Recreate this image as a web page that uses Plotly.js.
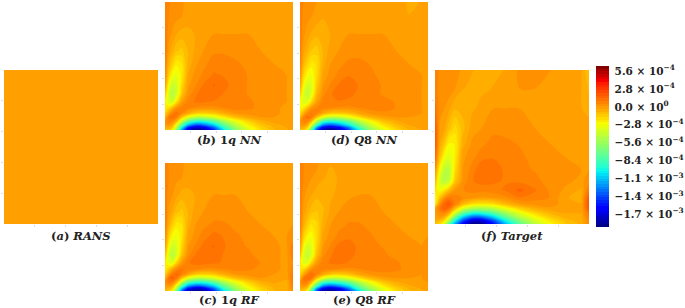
<!DOCTYPE html>
<html><head><meta charset="utf-8">
<script src="https://cdn.plot.ly/plotly-3.0.1.min.js"></script>
<style>html,body{margin:0;padding:0;background:#fff}#c{width:685px;height:308px}</style>
</head><body><div id="c"></div>
<script>
// Field values in units of 1e-4. Rows run bottom to top.
const xs=[0,.03,.06,.09,.13,.18,.24,.3,.38,.46,.55,.65,.75,.85,.95,1];
const ys=[0,.02,.04,.07,.1,.13,.17,.22,.28,.35,.43,.52,.62,.75,.88,1];
const rans=[[0,0],[0,0]];
const nn1q=[
[-1,-1.2,-2.5,-6,-12,-17,-18.5,-18,-15,-10.5,-6.5,-3.5,-1.8,-.8,-.4,-.2],
[-.5,-.6,-1.3,-4.5,-10,-15,-17,-16.5,-13.5,-9,-5.5,-3,-1.5,-.7,-.3,-.2],
[0,.2,-.5,-3,-7.5,-11.5,-13.5,-13,-11,-7.5,-4.5,-2.4,-1.1,-.5,-.2,-.2],
[.2,.8,.5,-.5,-4,-7.5,-9,-9,-7.5,-5,-3,-1.5,-.5,-.1,0,-.2],
[-.8,1,1.3,.8,-1,-3.2,-4.5,-4.5,-3.6,-2.2,-1,-.3,.1,.1,0,-.1],
[-1.5,-.3,.8,1.2,.6,-.4,-1.3,-1.5,-1.2,-.5,.1,.3,.3,.2,0,-.1],
[-2.2,-1.8,-.5,.4,.7,.6,.4,.3,.3,.5,.8,.6,.4,.2,0,0],
[-2.4,-3.5,-3.8,-2,-.1,.7,1,1,.9,.8,.8,.6,.4,.2,.1,0],
[-1.2,-3.8,-4.8,-3.8,-1.2,.3,.9,1.1,1.2,.9,.7,.5,.3,.2,.1,0],
[0,-2.8,-4.3,-3.8,-1.8,0,.5,1,1.4,1.1,.7,.5,.3,.2,.1,0],
[.5,-1.5,-2.8,-3.1,-2.2,-.3,.3,.6,1,.9,.7,.5,.3,.2,.1,.1],
[.9,-.7,-1.5,-2.3,-2,-.6,0,.4,.7,.7,.6,.4,.2,.1,.1,.1],
[1.1,-.1,-.6,-1.1,-1.3,-.7,-.2,.1,.45,.45,.35,.2,.1,.1,.1,.1],
[1,.3,0,-.3,-.5,-.4,-.3,-.1,.1,.1,.1,.1,.1,.1,.1,.1],
[.9,.5,.3,.2,.1,-.2,-.3,-.3,-.2,-.1,0,.1,.1,-.2,0,.1],
[.8,.6,.4,.3,.2,-.1,-.3,-.3,-.2,-.1,0,.1,.1,-.1,0,.1]];
const nnQ8=[
[-1,-1.2,-3,-8,-14,-18,-18.5,-17.5,-14.5,-10,-6,-3.3,-1.7,-.7,-.3,-.2],
[-.4,-.6,-1.5,-6,-12,-16,-17,-16,-13,-8.5,-5,-2.7,-1.3,-.5,-.2,-.1],
[0,.2,-.5,-3.5,-8.5,-12.5,-13.5,-12.5,-10,-6.8,-4,-2,-.9,-.3,0,-.1],
[.1,.8,.6,-.7,-4.5,-8,-9,-8.5,-7,-4.5,-2.6,-1.1,-.4,0,.1,0],
[-.8,.8,1.2,.9,-.9,-3.2,-4.5,-4.3,-3.2,-1.9,-.7,-.1,.1,.1,.1,.1],
[-1.8,-.5,.6,1,.6,-.3,-1.2,-1.3,-1,-.3,.2,.4,.4,.2,.1,.1],
[-2.5,-2,-.8,.2,.6,.6,.5,.4,.4,.5,.7,.7,.5,.3,.1,.1],
[-2.6,-3.5,-3.4,-1.7,-.1,.7,.9,.9,.8,.7,.7,.6,.5,.3,.1,.1],
[-1.4,-3.6,-4.5,-3.2,-.8,.4,.9,1.1,1.1,.8,.6,.5,.4,.2,.1,.1],
[-.3,-2.7,-4,-3.4,-1.4,.1,.6,1,1.2,.9,.6,.5,.3,.2,.1,.1],
[.3,-1.7,-2.7,-2.9,-1.8,-.2,.3,.6,.9,.8,.6,.4,.3,.2,.1,.1],
[.7,-.8,-1.6,-2.2,-1.9,-.5,.1,.4,.6,.6,.5,.35,.15,.1,.1,.1],
[.8,-.2,-.7,-1.2,-1.4,-.7,-.1,.1,.35,.4,.3,.15,.1,.1,.1,.1],
[.8,.2,-.1,-.4,-.6,-.5,-.3,-.1,.1,.1,.1,.1,.1,.1,.1,.1],
[.7,.4,.2,.1,-.1,-.3,-.3,-.3,-.2,0,.1,.1,0,-.3,-.3,0],
[.7,.5,.4,.2,.1,-.2,-.3,-.3,-.2,-.1,.1,.1,0,-.4,-.3,0]];
const rf1q=[
[-1,-1.4,-3,-7,-13,-17.5,-18.5,-18,-15,-10.5,-6.5,-3.6,-1.8,-.8,-.4,.5],
[-.5,-.7,-1.5,-5,-11,-15.5,-17,-16.5,-13.5,-9,-5.5,-3,-1.5,-.7,-.5,.5],
[0,.1,-.5,-3.2,-8,-12,-13.5,-13,-11,-7.5,-4.5,-2.4,-1.1,-.5,-.5,.8],
[.3,1,.7,-.5,-4,-7.8,-9,-9,-7.5,-5,-3,-1.5,-.5,-.2,-.5,1],
[-.6,1.3,1.6,1.1,-1,-3.2,-4.6,-4.5,-3.6,-2.2,-1,-.3,.1,.1,-.2,1],
[-1.5,0,1.1,1.5,.8,-.2,-1.2,-1.5,-1.2,-.5,.1,.3,.3,.1,-.1,1],
[-2.2,-1.5,-.2,.6,1,.8,.6,.4,.4,.5,.7,.6,.4,.2,0,.7],
[-2,-3.2,-3.2,-1.6,.1,.9,1.1,1.1,1,.9,.8,.7,.5,.2,0,.5],
[-1,-3.6,-4.8,-3.6,-1.1,.4,1,1.2,1.2,.9,.7,.6,.4,.2,0,.8],
[.1,-2.6,-4.1,-3.6,-1.7,.1,.6,1.1,1.4,1,.6,.5,.3,.2,0,.8],
[.6,-1.5,-2.7,-3,-2.1,-.2,.3,.7,1.1,.9,.6,.4,.2,.1,.1,.3],
[1,-.6,-1.4,-2.2,-2,-.5,.1,.4,.6,.6,.4,.2,.1,.1,.1,.1],
[1,0,-.4,-1,-1.3,-.7,-.1,.1,.3,.25,.2,.1,.1,.1,.1,.1],
[.9,.3,.1,-.2,-.5,-.4,-.3,-.1,.1,.1,.1,.1,.1,.1,.1,.1],
[.8,.5,.3,.2,.1,-.2,-.3,-.3,-.2,0,.1,.1,.1,-.3,-.3,.1],
[.7,.5,.4,.3,.2,-.1,-.3,-.3,-.2,-.1,.1,.1,.1,-.2,-.3,.1]];
const rfQ8=[
[-1,-1.2,-3,-8,-14,-18,-18.5,-17.5,-14.5,-10.5,-6.5,-3.6,-1.9,-.8,-.4,-.1],
[-.5,-.6,-1.5,-6,-12,-16,-17,-16,-13,-8.5,-5.5,-3,-1.5,-.7,-.3,-.1],
[0,.2,-.4,-3.5,-8.5,-12.5,-13.5,-12.5,-10.5,-7,-4.3,-2.2,-1,-.4,-.1,0],
[.3,.9,.7,-.6,-4.5,-8,-9,-8.5,-7,-4.7,-2.8,-1.2,-.4,-.1,0,.1],
[-.7,1.1,1.4,1,-.9,-3.2,-4.5,-4.3,-3.3,-2,-.8,-.1,.1,.1,.1,.2],
[-1.6,-.2,.9,1.3,.7,-.3,-1.2,-1.4,-1.1,-.3,.2,.4,.4,.2,.1,.3],
[-2.2,-1.7,-.6,.4,.8,.7,.6,.5,.4,.5,.7,.7,.6,.4,.1,.3],
[-2.1,-3.3,-3.3,-1.6,0,.8,1,1.1,.9,.8,.7,.7,.6,.3,.1,.3],
[-1,-3.5,-4.5,-3.4,-1,.4,.9,1.3,1.1,.8,.7,.6,.4,.2,.1,.3],
[0,-2.6,-3.9,-3.3,-1.5,.1,.6,1.1,1.2,.8,.6,.5,.3,.2,.1,.2],
[.5,-1.5,-2.5,-2.7,-1.8,-.2,.3,.6,.8,.7,.55,.4,.2,.1,.1,.1],
[.9,-.6,-1.4,-2,-1.7,-.5,.1,.4,.55,.55,.45,.25,.1,.1,.1,.1],
[.9,-.1,-.6,-1,-1.2,-.8,-.2,.1,.35,.35,.25,.1,.1,.1,.1,.1],
[.9,.2,-.1,-.3,-.6,-.6,-.4,-.2,0,.1,.1,.1,.1,.1,.1,.1],
[.8,.5,.3,.1,0,-.3,-.4,-.3,-.2,0,.1,.1,.1,0,0,.1],
[.7,.5,.4,.3,.2,-.1,-.3,-.3,-.2,-.1,.1,.1,.1,-.1,0,.1]];
const target=[
[-1,-1.7,-3.5,-8,-12,-16,-18.5,-18.5,-15.5,-11.5,-7.5,-4.5,-2.6,-1.2,-.6,.5],
[-.5,-1.1,-1.8,-5,-10,-14,-17,-17,-14,-10,-6.5,-3.8,-2.1,-1,-.5,.5],
[0,0,-.7,-2.8,-7.5,-11.5,-14,-14,-11.5,-8,-5,-2.9,-1.5,-.6,-.4,.8],
[0,.4,.6,-.4,-3.8,-7.5,-9.5,-9.5,-8,-5.5,-3.3,-1.7,-.7,-.3,-.3,1.2],
[-.2,1,1.7,1.2,-.9,-3.5,-5,-5.2,-4.5,-3,-1.5,-.5,0,0,-.3,2],
[-2.5,.3,1.5,2,.8,-.7,-1.8,-2.1,-1.8,-.8,0,.3,.3,-.1,-.3,2.2],
[-3,-1.2,.3,1,.8,.5,.2,0,.1,.4,.9,.7,.5,-.3,-.4,2],
[-2,-2.8,-2.2,-1,.1,.5,.7,.7,.8,1,1.5,1,.4,0,-.4,1],
[-.6,-3.7,-4.8,-4.2,-1.2,.2,.9,1.1,1,.9,.8,.6,.4,.2,0,.3],
[.4,-2.7,-4.5,-4.8,-1.8,.1,.7,1.3,1.3,.8,.6,.5,.3,.2,.1,.1],
[1.5,-1.1,-2.8,-3.5,-2.3,0,.4,.8,.9,.8,.6,.4,.2,.1,.1,.1],
[2,-.3,-1.2,-2.5,-2.4,-.5,.2,.4,.7,.6,.5,.2,.1,.1,.1,.1],
[2,0,-.3,-1,-1.8,-.9,-.1,.1,.4,.4,.25,.1,.1,.1,.1,-.1],
[1.2,.3,.1,-.2,-.7,-.6,-.4,-.2,.1,.1,.1,.1,.1,.1,-.3,-.5],
[.7,.4,.4,.4,.1,-.3,-.4,-.4,-.3,-.2,.1,.1,.1,-.2,-.3,-.8],
[.6,.5,.5,.5,.3,0,-.3,-.4,-.4,-.3,.2,.2,.1,-.1,-.3,-1.2]];
const tickVals=[5.6,2.8,0,-2.8,-5.6,-8.4,-11.2,-14,-16.8];
const tickText=["5.6 × 10<sup>−4</sup>","2.8 × 10<sup>−4</sup>","0.0 × 10<sup>0</sup>","−2.8 × 10<sup>−4</sup>","−5.6 × 10<sup>−4</sup>","−8.4 × 10<sup>−4</sup>","−1.1 × 10<sup>−3</sup>","−1.4 × 10<sup>−3</sup>","−1.7 × 10<sup>−3</sup>"];
const captions=["(<i>a</i>) <i>RANS</i>","(<i>b</i>) 1<i>q NN</i>","(<i>c</i>) 1<i>q RF</i>","(<i>d</i>) <i>Q</i>8 <i>NN</i>","(<i>e</i>) <i>Q</i>8 <i>RF</i>","(<i>f</i>) <i>Target</i>"];
// Layout in pixels
const W=685,H=308;
const panels=[
 {z:rans,  l:4,  r:158,t:70, b:224,cy:236},
 {z:nn1q,  l:165,r:293,t:2,  b:130,cy:139.5},
 {z:rf1q,  l:165,r:293,t:163,b:291,cy:300},
 {z:nnQ8,  l:300,r:428,t:2,  b:130,cy:139.5},
 {z:rfQ8,  l:300,r:428,t:163,b:291,cy:300},
 {z:target,l:435,r:589,t:70, b:224,cy:236}];
const cmin=-18.8,cmax=6.4,step=.42;
// matplotlib-style jet
const jet=[[0,'#00007f'],[.11,'#0000ff'],[.125,'#0000ff'],[.34,'#00f0f5'],[.375,'#25ffd0'],[.64,'#f6ff00'],[.66,'#ffe800'],[.89,'#ff1c00'],[.91,'#f40000'],[1,'#7f0000']];
const layout={width:W,height:H,margin:{l:0,r:0,t:0,b:0},paper_bgcolor:'#fff',plot_bgcolor:'#fff',showlegend:false,annotations:[]};
const data=panels.map((p,i)=>{
  const s=i?String(i+1):'';
  const ax={range:[0,1],showgrid:false,zeroline:false,showline:false,showticklabels:false,ticks:'outside',ticklen:2,tickwidth:1,tickcolor:'#dddddd',tickvals:[.2,.4,.6,.8]};
  layout['xaxis'+s]=Object.assign({},ax,{domain:[p.l/W,p.r/W],anchor:'y'+s});
  layout['yaxis'+s]=Object.assign({},ax,{domain:[1-p.b/H,1-p.t/H],anchor:'x'+s});
  layout.annotations.push({xref:'paper',yref:'paper',x:(p.l+p.r)/2/W,y:1-p.cy/H,xanchor:'center',yanchor:'middle',showarrow:false,text:captions[i],font:{family:'DejaVu Serif',size:11.5,color:'#222',weight:700}});
  const t={type:'contour',x:p.z.length===2?[0,1]:xs,y:p.z.length===2?[0,1]:ys,z:p.z,xaxis:'x'+s,yaxis:'y'+s,
    autocontour:false,contours:{start:cmin,end:cmax,size:step,coloring:'fill',showlines:false},
    line:{width:0,smoothing:1},colorscale:jet,zmin:cmin,zmax:cmax,showscale:i===0,hoverinfo:'skip'};
  if(i===0) t.colorbar={x:596/W,xanchor:'left',y:1-66/H,yanchor:'top',lenmode:'pixels',len:161,thicknessmode:'pixels',thickness:13,xpad:0,ypad:0,outlinewidth:0,ticks:'outside',ticklen:4,tickcolor:'rgba(0,0,0,0)',tickmode:'array',tickvals:tickVals,ticktext:tickText,tickfont:{family:'DejaVu Serif',size:10.5,color:'#222',weight:700}};
  return t;
});
Plotly.newPlot('c',data,layout,{displayModeBar:false,staticPlot:true});
</script></body></html>
